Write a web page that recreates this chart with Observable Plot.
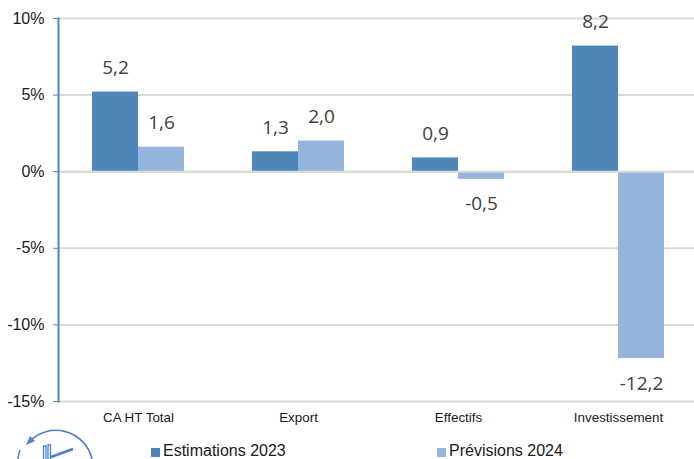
<!DOCTYPE html>
<html>
<head>
<meta charset="utf-8">
<script src="https://cdn.jsdelivr.net/npm/d3@7"></script>
<script src="https://cdn.jsdelivr.net/npm/@observablehq/plot@0.6"></script>
<style>
  html, body { margin: 0; padding: 0; background: #fff; }
  #chart { position: relative; width: 694px; height: 459px; overflow: hidden; }
  #chart > svg { position: absolute; left: 0; top: 0; }
  .legend-item { position: absolute; top: 441px; font: 16px/20px "Liberation Sans", Arial, sans-serif; color: #1a1a1a; white-space: nowrap; }
  .legend-item i { display: inline-block; width: 9px; height: 9px; margin-right: 3px; vertical-align: -0.5px; }
</style>
</head>
<body>
<div id="chart"></div>
<script>
const categories = ["CA HT Total", "Export", "Effectifs", "Investissement"];
const seriesNames = ["Estimations 2023", "Prévisions 2024"];
const estimations = [5.2, 1.3, 0.9, 8.2];
const previsions = [1.6, 2.0, -0.5, -12.2];
const yTicks = [10, 5, 0, -5, -10, -15];
const colors = ["#4f86b9", "#95b5dc"];
const axisBlue = "#4f86b9";
const gridGrey = "#d9d9d9";

const rows = categories.flatMap((c, i) => [
  {category: c, series: seriesNames[0], value: estimations[i]},
  {category: c, series: seriesNames[1], value: previsions[i]}
]);
const decimalComma = v => v.toFixed(1).replace(".", ",");

// Value labels sit above positive bars and below negative ones
const valueLabels = (data, dy) => Plot.text(data, {
  fx: "category",
  x: "series",
  y: "value",
  text: d => decimalComma(d.value),
  dy,
  fontFamily: "'Open Sans', sans-serif",
  fontSize: 19,
  fill: "#404040"
});

const plot = Plot.plot({
  width: 698,
  height: 459,
  marginLeft: 58,
  marginRight: 0,
  marginTop: 18,
  marginBottom: 58,
  style: {background: "transparent", fontFamily: "'Liberation Sans', Arial, sans-serif", maxWidth: "none"},
  x: {domain: seriesNames, paddingInner: 0, paddingOuter: 0.739, round: false, label: null, axis: null},
  fx: {domain: categories, padding: 0, round: false, label: null, axis: null},
  y: {domain: [-15, 10], label: null, axis: null},
  color: {domain: seriesNames, range: colors},
  marks: [
    Plot.ruleY(yTicks, {stroke: gridGrey, strokeWidth: 2}),
    Plot.barY(rows, {fx: "category", x: "series", y: "value", fill: "series"}),
    Plot.ruleY([0], {stroke: gridGrey, strokeWidth: 2}),
    Plot.frame({anchor: "left", fx: [categories[0]], stroke: axisBlue, strokeWidth: 2}),
    Plot.axisY({
      ticks: yTicks,
      tickFormat: d => d + "%",
      tickSize: 5,
      tickPadding: 9,
      stroke: axisBlue,
      fill: "#1a1a1a",
      fontSize: 16,
      label: null
    }),
    Plot.axisFx({anchor: "bottom", tickSize: 0, tickPadding: 11, fontSize: 13.4, fill: "#1a1a1a", label: null}),
    valueLabels(rows.filter(d => d.value >= 0), -24),
    valueLabels(rows.filter(d => d.value < 0), 25)
  ]
});
const chart = document.getElementById("chart");
chart.appendChild(plot);

// Legend under the plot
[[151, 0], [437, 1]].forEach(([left, i]) => {
  const item = document.createElement("div");
  item.className = "legend-item";
  item.style.left = left + "px";
  const swatch = document.createElement("i");
  swatch.style.background = colors[i];
  item.append(swatch, seriesNames[i]);
  chart.appendChild(item);
});

// Publisher emblem, cut off by the bottom edge of the page
const emblem = `<svg width="694" height="459" viewBox="0 0 694 459" fill="none" stroke="#4f7fd0" style="pointer-events:none">
  <path d="M92 459 A37 37 0 0 0 29 442" stroke-width="1.6"/>
  <path d="M26 445 L35 441 L30 436 Z" fill="#4f7fd0" stroke="none"/>
  <path d="M20 450 A37 37 0 0 0 18 459" stroke-width="1.6"/>
  <path d="M43.5 459 V446 H46 V459 M48 459 V445 H50.5 V459" stroke-width="1.3"/>
  <path d="M51 457 L73 449" stroke-width="2.4"/>
</svg>`;
chart.insertAdjacentHTML("beforeend", emblem);
</script>
</body>
</html>
